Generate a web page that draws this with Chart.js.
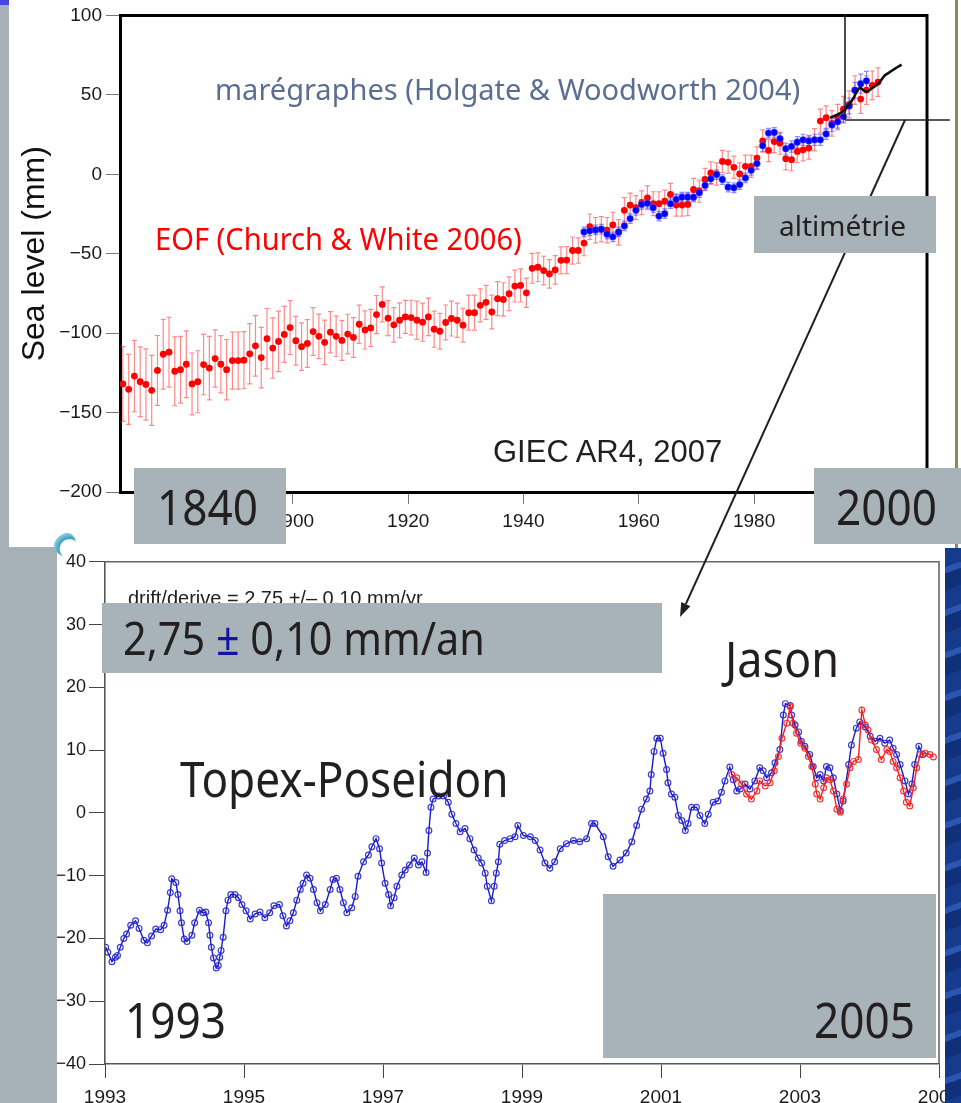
<!DOCTYPE html>
<html>
<head>
<meta charset="utf-8">
<script src="https://cdn.jsdelivr.net/npm/chart.js@4.4.1/dist/chart.umd.min.js"></script>
<style>
  body { margin: 0; width: 961px; height: 1103px; overflow: hidden; background: #a6b2b7; }
  #page { position: relative; width: 961px; height: 1103px; overflow: hidden; font-family: "Noto Sans", sans-serif; }
  .abs { position: absolute; }
  .lbl { position: absolute; white-space: nowrap; transform-origin: 0 0; line-height: 1.2; z-index: 5; }
  .mark { display: inline-block; width: 0; height: 0; vertical-align: baseline; }
  .box { position: absolute; background: #a7b3b8; z-index: 3; }
</style>
</head>
<body>
<div id="page">
  <!-- slide background pieces -->
  <div class="abs" style="left:0;top:0;width:9px;height:5px;background:#4646e0;"></div>
  <div class="abs" style="left:9px;top:0;width:936px;height:547px;background:#fff;"></div>
  <div class="abs" style="left:57px;top:547px;width:888px;height:556px;background:#fff;"></div>
  <div class="abs" style="left:54px;top:532px;width:22px;height:24px;border-radius:50%;background:radial-gradient(circle at 70% 70%, #fff 0 40%, #3a9fc0 45%, #8fd0e0 70%, transparent 72%);z-index:0;"></div>
  <div class="abs" style="left:945px;top:0;width:16px;height:548px;background:#fff;z-index:2;">
    <div class="abs" style="left:10px;top:0;width:3px;height:548px;background:#8c8a5a;"></div>
  </div>
  <div class="abs" style="left:945px;top:548px;width:16px;height:555px;z-index:2;
       background:repeating-linear-gradient(160deg,#163a8c 0 18px,#2a55b0 18px 24px,#10307a 24px 40px);"></div>

  <canvas id="topChart" class="abs" width="935" height="548" style="left:10px;top:0;z-index:1;"></canvas>
  <canvas id="botChart" class="abs" width="904" height="555" style="left:57px;top:548px;z-index:1;"></canvas>

  <svg class="abs" width="961" height="1103" style="left:0;top:0;z-index:2;">
    <line x1="845" y1="14" x2="845" y2="120" stroke="#231f20" stroke-width="1.6"/>
    <line x1="845" y1="120" x2="950" y2="120" stroke="#231f20" stroke-width="1.6"/>
    <line x1="905" y1="120" x2="685.8" y2="604.2" stroke="#231f20" stroke-width="2"/>
    <polygon points="680,617 690.4,606.3 681.2,602.1" fill="#231f20"/>
  </svg>

  <div class="box" style="left:134px;top:468px;width:152px;height:76px;"></div>
  <div class="box" style="left:814px;top:468px;width:147px;height:76px;"></div>
  <div class="box" style="left:754px;top:196px;width:182px;height:57px;"></div>
  <div class="box" style="left:102px;top:603px;width:560px;height:70px;"></div>
  <div class="box" style="left:603px;top:894px;width:333px;height:164px;"></div>
</div>

<script>
// EOF reconstruction (Church & White 2006), one value per year from 1870
const eofStart = 1870;
const eofLevel = [
  -132, -135.4, -127, -130.6, -132.3, -136, -123.5, -113.3, -112, -124,
  -123, -119.6, -132, -130.6, -119.8, -122, -116, -119.6, -123, -117.3,
  -117.3, -117, -113, -108, -115.4, -103.5, -109.4, -105.2, -100.8, -96.5,
  -104.8, -108.5, -106.5, -99, -102, -105.8, -99.4, -102, -104.6, -100.6,
  -102.7, -94.4, -98, -96.7, -88.3, -81.9, -90.6, -94.8, -91.9, -89.8,
  -90.2, -91.9, -93.1, -89.8, -97.5, -98.8, -93.3, -90.8, -91.9, -95,
  -87.1, -87.1, -82.5, -80.6, -86.7, -78.3, -78.8, -75.2, -70.4, -70,
  -74.6, -59.2, -58.5, -60.6, -62.7, -60.2, -54.2, -54, -48, -48,
  -43.3, -33, -35.2, -34.6, -35.2, -31.9, -36.6, -22.7, -19.4, -21,
  -17.9, -14.8, -18.5, -18.5, -17, -12.7, -19.4, -19.4, -19, -9.6,
  -10.6, -3.3, 0.8, 0.2, 8.1, 7.5, 4.4, 0.2, 5, 5,
  10.2, 21, 15, 20.6, 19.6, 9.8, 9.2, 14.4, 15.4, 16.5,
  21.7, 33.5, 35.6, 32, 36, 41, 44, 53, 47.3, 53,
  56, 58
];
const eofErr = [
  23.5, 22, 22.5, 22, 22.4, 22, 22, 22, 22, 21.7,
  21, 21, 19.5, 19.5, 19, 20, 18, 18, 19, 18,
  18, 18, 19, 19, 19, 19, 19, 19, 17.6, 17,
  15.3, 15, 15, 15, 14, 14, 13, 12.7, 12.5, 12.5,
  12.5, 12, 12, 11.7, 12, 11, 11, 10.8, 11, 10.4,
  10.9, 12, 12, 11.8, 11.4, 11.3, 11, 11, 10.8, 10.6,
  11, 11, 10.4, 10.7, 10.6, 10.7, 10.5, 10.6, 10, 10.4,
  9.2, 9.4, 9, 9, 9, 9, 8.5, 8.5, 8.5, 8,
  8, 8, 8, 8, 8, 8, 8, 8, 7.5, 7.5,
  7.5, 7.5, 7.5, 7.5, 7, 7, 7, 7, 7, 7,
  7, 7, 7, 7, 7, 7, 7, 7, 7, 7,
  7, 7, 7, 7, 7, 7, 7, 7, 7, 7,
  7, 7.5, 7.5, 8, 8, 8, 8.5, 9, 9, 9,
  9, 9
];

// tide gauges (Holgate & Woodworth 2004), yearly from 1950
const tgStart = 1950;
const tgLevel = [
  -36.3, -35.6, -35, -34.6, -37.7, -39.4, -36.3, -32.5, -27.9, -22.7,
  -19, -18.3, -21, -26.3, -24.8, -18.5, -15.8, -14.4, -14.4, -14.4,
  -11.6, -7, -2.9, -0.2, -3.3, -8.1, -8.5, -6.5, -2.3, 2.5,
  6.7, 18, 25.9, 26.3, 22.4, 16.1, 17.5, 20.2, 21.7, 21,
  21.7, 21.7, 25.4, 31, 33.1, 36.3, 43, 52.9, 57, 58.8
];
const tgErr = [
  3, 3, 3, 3, 3, 3, 3, 3, 3, 3,
  3, 3, 3, 3, 3, 3, 3, 3, 3, 3,
  3, 3, 3, 3, 3, 3, 3, 3, 3, 3,
  3.5, 3.5, 3, 3, 3.5, 3.5, 3.5, 3.5, 3.5, 3.5,
  3.5, 3.5, 3.5, 4, 4, 4, 5, 5, 6, 6
];

// satellite altimetry curve on the top panel
const altYear = [1993.18, 1994.34, 1995.5, 1996.36, 1997.2, 1997.8, 1998.4, 1998.95, 1999.5, 2000.4, 2001.56, 2002.7, 2003.6, 2004.45, 2005.6];
const altLevel = [35.6, 37.3, 39.8, 43.5, 47.7, 51.9, 54.4, 53, 51.9, 54, 57.1, 62.3, 64.4, 66.5, 69];

// Topex-Poseidon (bottom panel)
const topexTime = [
  1993.01, 1993.04, 1993.1, 1993.15, 1993.18, 1993.22, 1993.27, 1993.31, 1993.37, 1993.44,
  1993.49, 1993.56, 1993.61, 1993.67, 1993.73, 1993.8, 1993.85, 1993.9, 1993.94, 1993.96,
  1994.02, 1994.05, 1994.08, 1994.1, 1994.14, 1994.18, 1994.25, 1994.29, 1994.36, 1994.41,
  1994.45, 1994.49, 1994.51, 1994.53, 1994.56, 1994.6, 1994.63, 1994.65, 1994.67, 1994.7,
  1994.74, 1994.77, 1994.81, 1994.87, 1994.92, 1994.97, 1995.03, 1995.09, 1995.16, 1995.23,
  1995.3, 1995.37, 1995.43, 1995.51, 1995.56, 1995.61, 1995.66, 1995.71, 1995.76, 1995.81,
  1995.85, 1995.9, 1995.95, 1996.0, 1996.05, 1996.1, 1996.17, 1996.24, 1996.28, 1996.33,
  1996.38, 1996.43, 1996.48, 1996.55, 1996.6, 1996.64, 1996.72, 1996.79, 1996.84, 1996.9,
  1996.95, 1996.98, 1997.03, 1997.08, 1997.11, 1997.16, 1997.2, 1997.27, 1997.32, 1997.38,
  1997.45, 1997.51, 1997.56, 1997.62, 1997.64, 1997.66, 1997.69, 1997.72, 1997.8, 1997.87,
  1997.94, 1997.99, 1998.05, 1998.11, 1998.18, 1998.25, 1998.31, 1998.37, 1998.42, 1998.47,
  1998.5, 1998.56, 1998.6, 1998.63, 1998.66, 1998.68, 1998.75, 1998.83, 1998.9, 1998.94,
  1999.02, 1999.12, 1999.19, 1999.26, 1999.33, 1999.4, 1999.47, 1999.55, 1999.64, 1999.74,
  1999.83, 1999.93, 2000.0, 2000.05, 2000.17, 2000.24, 2000.31, 2000.41, 2000.5, 2000.58,
  2000.65, 2000.72, 2000.79, 2000.84, 2000.86, 2000.9, 2000.94, 2000.99, 2001.03, 2001.08,
  2001.1, 2001.15, 2001.2, 2001.25, 2001.3, 2001.35, 2001.39, 2001.44, 2001.51, 2001.56,
  2001.63, 2001.68, 2001.75, 2001.82, 2001.87, 2001.92, 2001.99, 2002.04, 2002.09, 2002.14,
  2002.21, 2002.28, 2002.35, 2002.42, 2002.47, 2002.52, 2002.59, 2002.64, 2002.71, 2002.76,
  2002.79, 2002.86, 2002.88, 2002.93, 2002.98, 2003.02, 2003.07, 2003.14, 2003.19, 2003.24,
  2003.29, 2003.34, 2003.38, 2003.43, 2003.48, 2003.53, 2003.58, 2003.62, 2003.7, 2003.74,
  2003.81, 2003.86, 2003.94, 2004.01, 2004.08, 2004.15, 2004.22, 2004.29, 2004.34, 2004.39,
  2004.44, 2004.51, 2004.56, 2004.61, 2004.65, 2004.71, 2004.77
];
const topexLevel = [
  -21.4, -22.2, -23.7, -23, -22.7, -21.4, -20, -19.3, -17.9, -17.2,
  -18.4, -20.3, -20.7, -19.6, -18.5, -18.6, -17.9, -15.5, -12.7, -10.5,
  -11.1, -13, -15.6, -17.5, -20.1, -20.5, -19.5, -17.5, -15.5, -15.9,
  -15.8, -17.5, -19.5, -21.4, -23.1, -24.7, -24.3, -23, -21.9, -19.8,
  -15.6, -13.9, -13, -13, -13.5, -14.6, -15.6, -16.9, -16.1, -15.8,
  -16.7, -15.9, -14.8, -14.6, -16.4, -18, -17.2, -15.9, -13.9, -12.2,
  -11.2, -9.9, -10.4, -12.2, -14.3, -15.6, -14.6, -12.2, -10.6, -10.4,
  -12.2, -14.3, -15.9, -15.1, -13.3, -10.1, -7.8, -6.7, -5.4, -4.1,
  -5.7, -8, -11.2, -13, -14.8, -13.5, -11.7, -9.9, -9.1, -8.3,
  -7.2, -8.3, -7.8, -9.5, -6.4, -2.8, 0.9, 2.2, 2.7, 2.7,
  1.7, -0.2, -1.7, -3, -2.5, -4.1, -5.9, -7.2, -8, -9.6,
  -11.7, -14, -11.7, -9.6, -7.8, -5, -4.4, -4.1, -3.8, -2,
  -3.6, -3.8, -4.4, -5.9, -8, -8.8, -7.8, -5.7, -4.9, -4.4,
  -4.6, -4.1, -1.7, -1.7, -3.8, -7, -8.5, -7.5, -6.4, -4.6,
  -2, 0.6, 2.2, 3.5, 6.1, 9.8, 11.9, 11.9, 9.5, 6.9,
  4.8, 3, 2.5, -0.4, -1.2, -2.8, -1.7, 0.9, 0.9, -0.4,
  -1.7, -0.2, 1.7, 1.9, 3.3, 5.1, 7.3, 5.3, 3.5, 3.8,
  4.6, 3.8, 5.1, 7.2, 6.7, 5.6, 6.4, 8, 10.1, 15.6,
  17.4, 17.1, 15.6, 14, 12.9, 11.4, 10.6, 9.3, 7.4, 5.6,
  6.1, 5.1, 7.4, 7.2, 5.6, 3, 0.4, 1.9, 7.7, 10.8,
  13.5, 14.5, 13.7, 12.2, 11.4, 11.9, 11.1, 11.6, 10.3, 9.3,
  7.7, 5.1, 3, 4.6, 7.7, 10.6, 9.3
];

// Jason (bottom panel)
const jasonTime = [
  2002.02, 2002.09, 2002.16, 2002.23, 2002.3, 2002.38, 2002.42, 2002.5, 2002.57, 2002.63,
  2002.69, 2002.74, 2002.81, 2002.86, 2002.9, 2002.95, 2003.01, 2003.07, 2003.12, 2003.17,
  2003.22, 2003.24, 2003.29, 2003.34, 2003.38, 2003.43, 2003.48, 2003.53, 2003.58, 2003.62,
  2003.67, 2003.72, 2003.77, 2003.84, 2003.89, 2003.94, 2003.98, 2004.03, 2004.1, 2004.17,
  2004.25, 2004.29, 2004.34, 2004.39, 2004.44, 2004.49, 2004.53, 2004.58, 2004.63, 2004.68,
  2004.73, 2004.8, 2004.87, 2004.92
];
const jasonLevel = [
  6.1, 5.6, 4.6, 3, 2.2, 3.5, 5.1, 4.3, 4.8, 6.7,
  9, 11.9, 14.3, 16.9, 14.3, 12.7, 11.1, 10.3, 9, 7.4,
  4.6, 3, 2.2, 4, 5.6, 5.3, 3.5, 0.6, 0.1, 2.2,
  4.6, 7.2, 8.2, 8.5, 16.4, 14, 13.2, 11.6, 10.1, 8.5,
  10.1, 9.8, 8.2, 7.2, 5.6, 3.5, 1.7, 1.1, 4, 7.2,
  9.3, 9.5, 9.3, 8.9
];

const topXTicks = [1880, 1900, 1920, 1940, 1960, 1980, 2000];
const botXTicks = [1993, 1995, 1997, 1999, 2001, 2003, 2005];

Chart.defaults.font.family = '"Liberation Sans", Arial, sans-serif';
Chart.defaults.color = '#1a1a1a';

const minusLabel = v => (v < 0 ? '\u2212' + Math.abs(v) : String(v));

// error bars drawn under the points
const errorBars = {
  id: 'errorBars',
  beforeDatasetsDraw(chart) {
    const ctx = chart.ctx, x = chart.scales.x, y = chart.scales.y;
    chart.data.datasets.slice().reverse().forEach(ds => {
      if (!ds.errors) return;
      ctx.save();
      ctx.strokeStyle = ds.errColor;
      ctx.lineWidth = 1.2;
      ds.data.forEach((p, i) => {
        const px = x.getPixelForValue(p.x);
        const top = y.getPixelForValue(p.y + ds.errors[i]);
        const bot = y.getPixelForValue(p.y - ds.errors[i]);
        ctx.beginPath();
        ctx.moveTo(px, top); ctx.lineTo(px, bot);
        ctx.moveTo(px - 2.5, top); ctx.lineTo(px + 2.5, top);
        ctx.moveTo(px - 2.5, bot); ctx.lineTo(px + 2.5, bot);
        ctx.stroke();
      });
      ctx.restore();
    });
  }
};

// top and right sides of the frame
const frame = {
  id: 'frame',
  afterDraw(chart, args, opts) {
    const a = chart.chartArea, ctx = chart.ctx;
    ctx.save();
    ctx.strokeStyle = opts.color;
    ctx.lineWidth = opts.width;
    ctx.beginPath();
    ctx.moveTo(a.left, a.top); ctx.lineTo(a.right, a.top); ctx.lineTo(a.right, a.bottom);
    ctx.stroke();
    ctx.restore();
  }
};

new Chart(document.getElementById('topChart'), {
  type: 'scatter',
  data: {
    datasets: [
      {
        data: altYear.map((t, i) => ({ x: t, y: altLevel[i] })),
        showLine: true, borderColor: '#111', borderWidth: 2.6, pointRadius: 0, tension: 0.3
      },
      {
        data: tgLevel.map((v, i) => ({ x: tgStart + i + 0.5, y: v })),
        errors: tgErr, errColor: 'rgba(60,60,255,0.6)',
        pointRadius: 3.4, backgroundColor: '#0000ff', borderColor: 'rgba(120,120,255,0.3)', borderWidth: 1.5
      },
      {
        data: eofLevel.map((v, i) => ({ x: eofStart + i + 0.5, y: v })),
        errors: eofErr, errColor: 'rgba(255,40,40,0.55)',
        pointRadius: 3.4, backgroundColor: '#ff0000', borderColor: '#ff0000', borderWidth: 0
      }
    ]
  },
  options: {
    responsive: false,
    animation: false,
    layout: { padding: { top: 14, right: 18, left: 0, bottom: 0 } },
    plugins: { legend: { display: false }, tooltip: { enabled: false }, frame: { color: '#000', width: 3 } },
    scales: {
      x: {
        min: 1870, max: 2010,
        afterBuildTicks: s => { s.ticks = topXTicks.map(v => ({ value: v })); },
        afterFit: s => { s.height = 56; s.paddingLeft = 0; s.paddingRight = 0; },
        border: { display: true, color: '#000', width: 3 },
        grid: { drawOnChartArea: false, tickLength: 12, color: '#777' },
        ticks: { font: { size: 19 }, padding: 6, maxRotation: 0, callback: v => String(v) }
      },
      y: {
        min: -200, max: 100,
        afterFit: s => { s.width = 110; },
        border: { display: true, color: '#000', width: 3 },
        grid: { drawOnChartArea: false, tickLength: 14, color: '#777' },
        ticks: { stepSize: 50, font: { size: 19 }, padding: 4, callback: minusLabel },
        title: { display: true, text: 'Sea level (mm)', font: { size: 32 }, color: '#111', padding: { top: 6, bottom: 0 } }
      }
    }
  },
  plugins: [errorBars, frame]
});

new Chart(document.getElementById('botChart'), {
  type: 'scatter',
  data: {
    datasets: [
      {
        data: jasonTime.map((t, i) => ({ x: t, y: jasonLevel[i] })),
        showLine: true, borderColor: '#ff1a1a', borderWidth: 1.4,
        pointRadius: 2.9, pointBorderColor: 'rgba(235,40,40,0.9)', pointBackgroundColor: 'rgba(0,0,0,0)', pointBorderWidth: 1.2
      },
      {
        data: topexTime.map((t, i) => ({ x: t, y: topexLevel[i] })),
        showLine: true, borderColor: '#1a1acc', borderWidth: 1.4,
        pointRadius: 2.9, pointBorderColor: 'rgba(40,40,205,0.9)', pointBackgroundColor: 'rgba(0,0,0,0)', pointBorderWidth: 1.2
      }
    ]
  },
  options: {
    responsive: false,
    animation: false,
    layout: { padding: { top: 8, right: 22, left: 0, bottom: 0 } },
    plugins: { legend: { display: false }, tooltip: { enabled: false }, frame: { color: '#666', width: 1.6 } },
    scales: {
      x: {
        min: 1993, max: 2005,
        afterBuildTicks: s => { s.ticks = botXTicks.map(v => ({ value: v })); },
        afterFit: s => { s.height = 39; s.paddingLeft = 0; s.paddingRight = 0; },
        border: { display: true, color: '#555', width: 1.6 },
        grid: { drawOnChartArea: false, tickLength: 14, color: '#444' },
        ticks: { font: { size: 19 }, padding: 8, maxRotation: 0, callback: v => String(v) }
      },
      y: {
        min: -40, max: 40,
        afterFit: s => { s.width = 48; },
        border: { display: true, color: '#555', width: 1.6 },
        grid: { drawOnChartArea: false, tickLength: 16, color: '#444' },
        ticks: { stepSize: 10, font: { size: 18 }, padding: 3, callback: minusLabel }
      }
    }
  },
  plugins: [frame]
});

// text labels positioned on their baseline
function addLabel(html, x, base, css, sx, alignRight, z) {
  const d = document.createElement('div');
  d.className = 'lbl';
  d.style.cssText = css;
  if (z !== undefined) d.style.zIndex = z;
  d.innerHTML = html;
  const m = document.createElement('span');
  m.className = 'mark';
  d.appendChild(m);
  document.getElementById('page').appendChild(d);
  const w = d.offsetWidth * sx;
  d.style.left = (alignRight ? x - w : x) + 'px';
  d.style.top = (base - m.offsetTop) + 'px';
  d.style.transform = 'scaleX(' + sx + ')';
}

const slide = 'font-family:"Noto Sans",sans-serif;color:#231f20;';
addLabel('marégraphes (Holgate &amp; Woodworth 2004)', 215, 100, 'font-family:"Noto Sans",sans-serif;color:#5b6e92;font-size:29px;', 1);
addLabel('EOF (Church &amp; White 2006)', 155, 250, 'font-family:"Noto Sans",sans-serif;color:#ff0000;font-size:30px;', 0.97);
addLabel('GIEC AR4, 2007', 493, 462, 'font-family:"Liberation Sans",Arial,sans-serif;color:#231f20;font-size:31px;', 1);
addLabel('altimétrie', 779, 236, slide + 'font-size:28px;', 1);
addLabel('1840', 157, 525, slide + 'font-size:49px;', 0.9);
addLabel('2000', 836, 525, slide + 'font-size:49px;', 0.9);
addLabel('drift/derive = 2.75 +/\u2013 0.10 mm/yr', 128, 605, 'font-family:"Liberation Sans",Arial,sans-serif;color:#222;font-size:20px;', 1, false, 2);
addLabel('2,75 <span style="color:#1414a0">±</span> 0,10 mm/an', 123, 655, slide + 'font-size:45px;', 0.92);
addLabel('Jason', 725, 677, slide + 'font-size:50px;', 0.9);
addLabel('Topex-Poseidon', 180, 797, slide + 'font-size:49px;', 0.9);
addLabel('1993', 125, 1038, slide + 'font-size:49px;', 0.9);
addLabel('2005', 915, 1038, slide + 'font-size:49px;', 0.9, true);
</script>
</body>
</html>
